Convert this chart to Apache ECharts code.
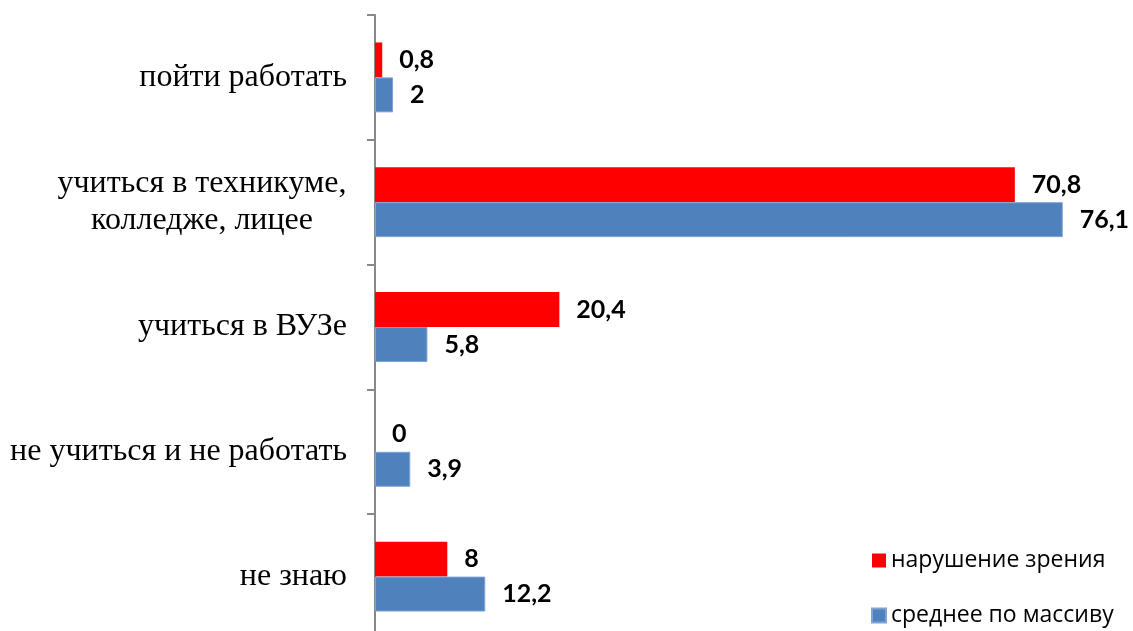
<!DOCTYPE html>
<html>
<head>
<meta charset="utf-8">
<script src="https://cdn.jsdelivr.net/npm/echarts@6/dist/echarts.min.js"></script>
<style>
  html, body { margin: 0; padding: 0; background: #fff; }
  #chart { width: 1133px; height: 631px; }
</style>
</head>
<body>
<div id="chart"></div>
<script>
// данные
var categories = ['пойти работать', 'учиться в техникуме,\nколледже, лицее', 'учиться в ВУЗе', 'не учиться и не работать', 'не знаю'];
var seriesNames = ['нарушение зрения', 'среднее по массиву'];
var visionValues = [0.8, 70.8, 20.4, 0, 8];
var averageValues = [2, 76.1, 5.8, 3.9, 12.2];

var chart = echarts.init(document.getElementById('chart'));

function commaLabel(p) {
  return String(p.value).replace('.', ',');
}

var valueLabel = {
  show: true,
  position: 'right',
  distance: 17,
  formatter: commaLabel,
  color: '#000',
  fontFamily: 'Lato',
  fontWeight: 'bold',
  fontSize: 25
};

chart.setOption({
  animation: false,
  grid: { left: 375, width: 723, top: 15, height: 624, outerBoundsMode: 'none', containLabel: false },
  legend: {
    orient: 'vertical',
    left: 871,
    top: 549,
    height: 90,
    padding: 0,
    itemWidth: 14,
    itemHeight: 14,
    itemGap: 32,
    icon: 'rect',
    textStyle: { fontFamily: 'Open Sans', fontSize: 23, lineHeight: 22, color: '#000' },
    data: seriesNames
  },
  xAxis: {
    type: 'value',
    min: 0,
    max: 80,
    show: false,
    splitLine: { show: false }
  },
  yAxis: {
    type: 'category',
    inverse: true,
    data: categories,
    axisLine: { show: true, lineStyle: { color: '#888', width: 2 } },
    axisTick: { show: true, inside: false, length: 8, lineStyle: { color: '#888', width: 2 } },
    axisLabel: {
      margin: 28,
      color: '#000',
      fontFamily: 'Liberation Serif',
      fontSize: 32,
      lineHeight: 37,
      formatter: function (v) {
        if (v.indexOf('\n') >= 0) {
          return v.split('\n').map(function (s) { return '{c|' + s + '}'; }).join('\n');
        }
        return v;
      },
      rich: {
        c: { width: 290, align: 'center', fontFamily: 'Liberation Serif', fontSize: 32, lineHeight: 37, color: '#000' }
      }
    }
  },
  series: [
    {
      name: seriesNames[0],
      type: 'bar',
      data: visionValues,
      barGap: '0%',
      barCategoryGap: '44%',
      itemStyle: { color: '#ff0000' },
      label: valueLabel
    },
    {
      name: seriesNames[1],
      type: 'bar',
      data: averageValues,
      itemStyle: { color: '#4f81bd', borderColor: '#7fa3d3', borderWidth: 1 },
      label: valueLabel
    }
  ]
});
</script>
</body>
</html>
